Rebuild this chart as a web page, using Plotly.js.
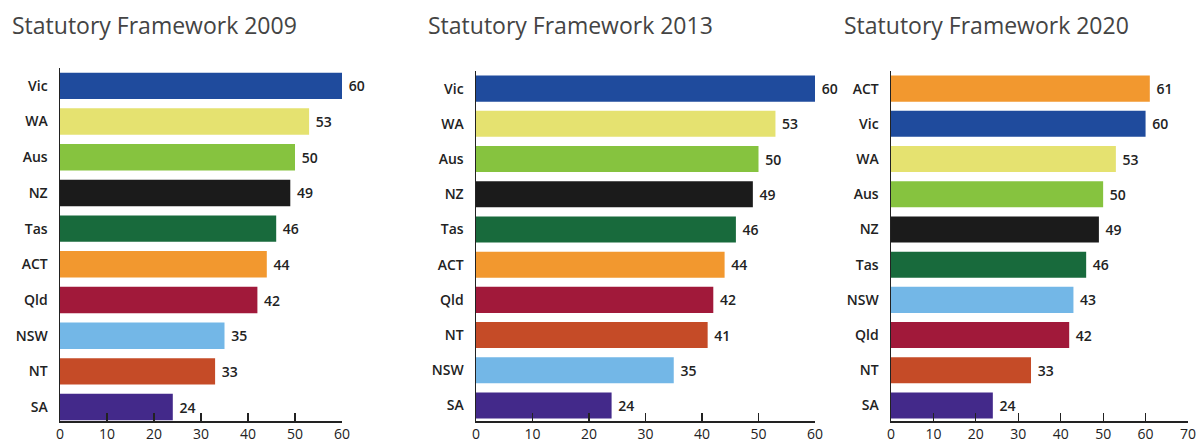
<!DOCTYPE html>
<html><head><meta charset="utf-8">
<script src="https://cdn.plot.ly/plotly-3.0.1.min.js"></script>
<style>html,body{margin:0;padding:0;background:#fff}#chart{width:1204px;height:443px}</style>
</head><body><div id="chart"></div>
<script>
const titles = ['Statutory Framework 2009', 'Statutory Framework 2013', 'Statutory Framework 2020'];
const cats2009 = ['Vic','WA','Aus','NZ','Tas','ACT','Qld','NSW','NT','SA'];
const vals2009 = [60,53,50,49,46,44,42,35,33,24];
const cats2013 = ['Vic','WA','Aus','NZ','Tas','ACT','Qld','NT','NSW','SA'];
const vals2013 = [60,53,50,49,46,44,42,41,35,24];
const cats2020 = ['ACT','Vic','WA','Aus','NZ','Tas','NSW','Qld','NT','SA'];
const vals2020 = [61,60,53,50,49,46,43,42,33,24];
const colours = {Vic:'#1f4b9d', WA:'#e5e270', Aus:'#86c33f', NZ:'#1b1b1b', Tas:'#186a3c',
  ACT:'#f2982f', Qld:'#a1193a', NSW:'#73b7e7', NT:'#c54b27', SA:'#43298a'};
const xTicks1 = [0,10,20,30,40,50,60];
const xTicks3 = [0,10,20,30,40,50,60,70];

const W = 1204, H = 443;
const panels = [
  {cats:cats2009, vals:vals2009, x0:60, x1:342, xr:[0,60], ticks:xTicks1, yTop:68, yBot:421, yr:[9.39,-0.5], tx:10},
  {cats:cats2013, vals:vals2013, x0:476, x1:815, xr:[0,60], ticks:xTicks1, yTop:71, yBot:421, yr:[9.44,-0.5], tx:426},
  {cats:cats2020, vals:vals2020, x0:891, x1:1188, xr:[0,70], ticks:xTicks3, yTop:71, yBot:421, yr:[9.44,-0.5], tx:842}
];
const dark = '#222';
const data = [], layout = {
  width:W, height:H, margin:{l:0,r:0,t:0,b:0}, showlegend:false,
  paper_bgcolor:'#fff', plot_bgcolor:'#fff', bargap:0.26,
  font:{family:'Open Sans, sans-serif', color:dark, size:13},
  annotations:[]
};
panels.forEach((p,i)=>{
  const s = i===0 ? '' : String(i+1);
  data.push({type:'bar', orientation:'h', x:p.vals, y:p.cats,
    xaxis:'x'+s, yaxis:'y'+s,
    marker:{color:p.cats.map(c=>colours[c])},
    text:p.vals.map(String), texttemplate:' %{text}', textposition:'outside', cliponaxis:false,
    textfont:{size:14, color:dark, family:'Open Sans, sans-serif', weight:600},
    hoverinfo:'skip'});
  layout['xaxis'+s] = {domain:[p.x0/W, p.x1/W], range:p.xr, anchor:'y'+s,
    tickvals:p.ticks, ticks:'inside', ticklen:8, tickcolor:dark, tickwidth:1.2,
    showline:true, linecolor:dark, linewidth:1.5, showgrid:false, zeroline:false,
    ticklabelstandoff:0,
    tickfont:{size:14, color:dark, family:'Open Sans, sans-serif'}, fixedrange:true};
  layout['yaxis'+s] = {domain:[1-p.yBot/H, 1-p.yTop/H], anchor:'x'+s,
    type:'category', range:p.yr, showline:true, linecolor:dark, linewidth:1.5,
    ticks:'', ticklabelstandoff:8, showgrid:false, zeroline:false,
    tickfont:{size:14, color:dark, family:'Open Sans, sans-serif', weight:600}, fixedrange:true};
  layout.annotations.push({text:titles[i], xref:'paper', yref:'paper', x:p.tx/W, y:1-7/H,
    xanchor:'left', yanchor:'top', showarrow:false,
    font:{size:23, color:'#444', family:'Open Sans, sans-serif'}});
});
Plotly.newPlot('chart', data, layout, {displayModeBar:false, staticPlot:true});
</script></body></html>
